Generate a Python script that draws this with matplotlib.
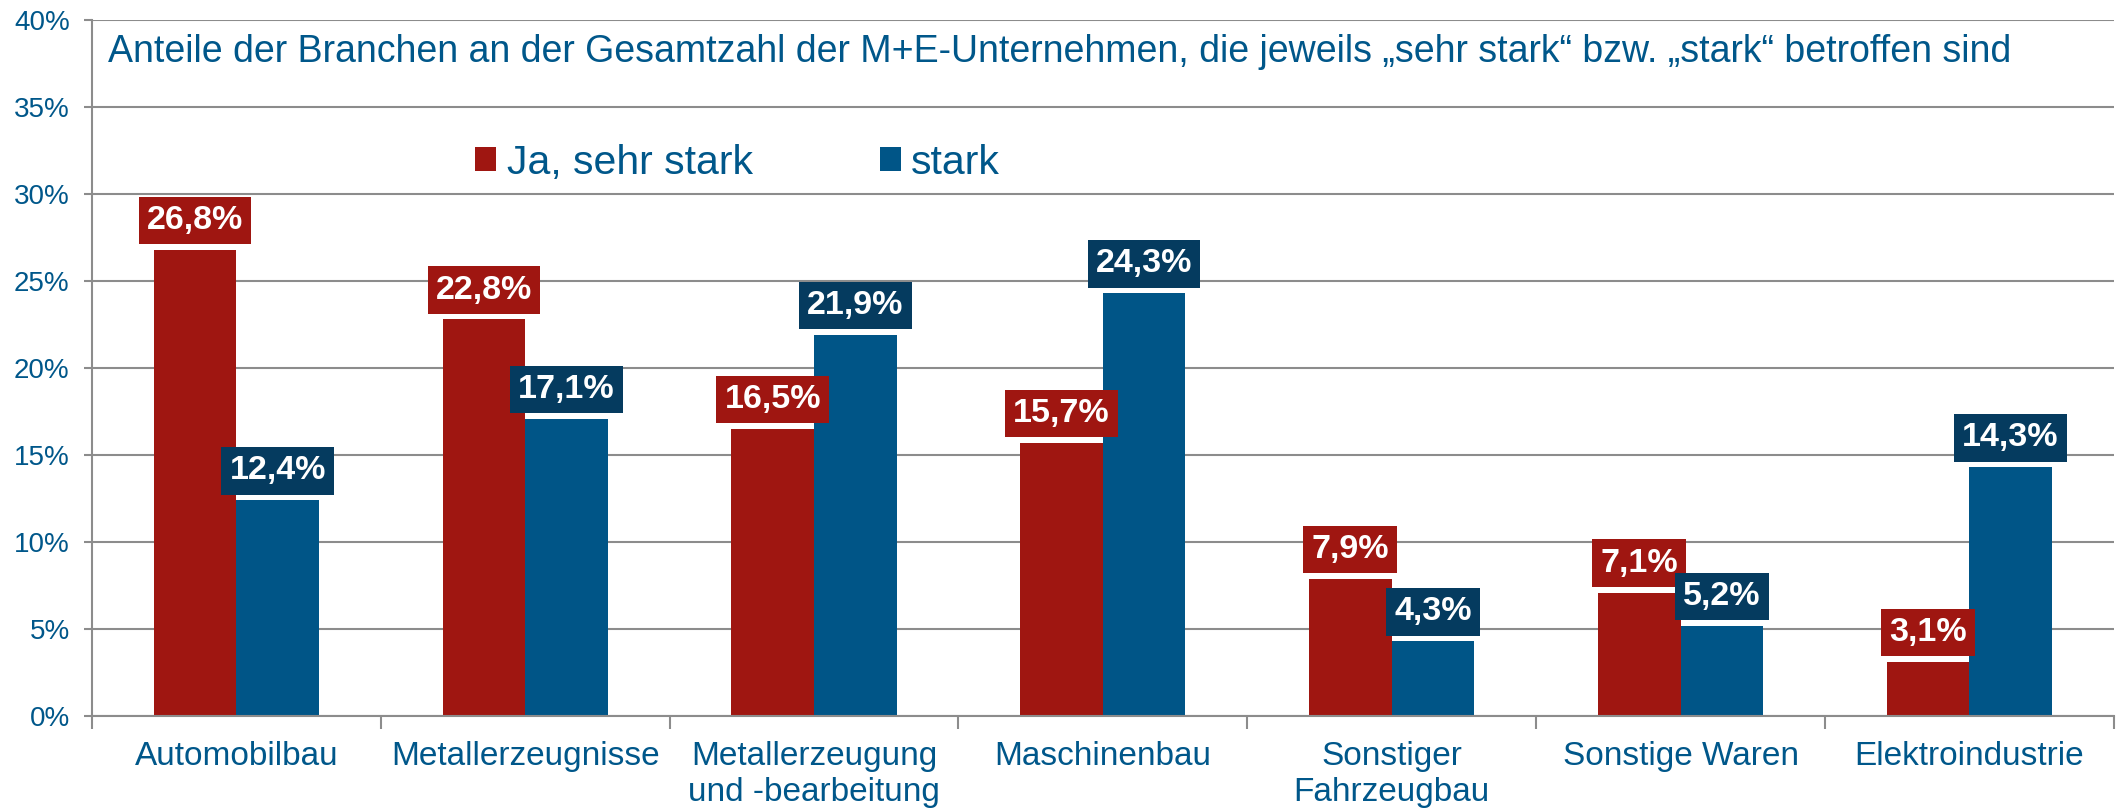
import numpy as np
import matplotlib
matplotlib.use("Agg")
import matplotlib.pyplot as plt

plt.rcParams['font.family'] = ['Liberation Sans', 'DejaVu Sans']

categories = ["Automobilbau", "Metallerzeugnisse", "Metallerzeugung\nund -bearbeitung",
              "Maschinenbau", "Sonstiger\nFahrzeugbau", "Sonstige Waren", "Elektroindustrie"]
sehr_stark = [26.8, 22.8, 16.5, 15.7, 7.9, 7.1, 3.1]
stark = [12.4, 17.1, 21.9, 24.3, 4.3, 5.2, 14.3]
series_names = ["Ja, sehr stark", "stark"]
yticks = [0, 5, 10, 15, 20, 25, 30, 35, 40]
title = "Anteile der Branchen an der Gesamtzahl der M+E-Unternehmen, die jeweils \u201esehr stark\u201c bzw. \u201estark\u201c betroffen sind"

RED = "#9F1611"
BLUE = "#005587"
BLUE_BOX = "#053B5F"
TXT = "#00578A"
GRID = "#8C8C8C"

fig = plt.figure(figsize=(21.18, 8.10), dpi=100)
ax = fig.add_axes([0.0434, 0.116, 0.9546, 0.859])

x = np.arange(len(categories))
w = 1 / 3.5
b1 = ax.bar(x - w / 2, sehr_stark, w, color=RED, label=series_names[0], zorder=2)
b2 = ax.bar(x + w / 2, stark, w, color=BLUE, label=series_names[1], zorder=2)

ax.set_xlim(-0.5, len(categories) - 0.5)
ax.set_ylim(0, 40)
ax.set_yticks(yticks)
ax.set_yticklabels([f"{v}%" for v in yticks])
ax.yaxis.grid(True, color=GRID, lw=1.5, zorder=0)
ax.set_axisbelow(True)

for s in ['top', 'right']:
    ax.spines[s].set_visible(False)
for s in ['left', 'bottom']:
    ax.spines[s].set_color(GRID)
    ax.spines[s].set_linewidth(1.5)

ax.set_xticks(np.arange(-0.5, len(categories), 1.0))
ax.set_xticklabels([])
ax.set_xticks(x, minor=True)
ax.set_xticklabels(categories, minor=True)
ax.tick_params(axis='x', which='major', length=9.5, width=1.5, color=GRID, direction='out')
ax.tick_params(axis='x', which='minor', length=0, pad=18, labelsize=24, labelcolor=TXT)
ax.tick_params(axis='y', length=6, width=1.5, color=GRID, labelsize=20, labelcolor=TXT, pad=10)
for t in ax.get_xticklabels(minor=True):
    t.set_linespacing(1.2)

def fmt(v):
    return f"{v:.1f}".replace('.', ',') + '%'

for bars, vals, col in [(b1, sehr_stark, RED), (b2, stark, BLUE_BOX)]:
    for r, v in zip(bars, vals):
        ax.annotate(fmt(v), xy=(r.get_x() + r.get_width() / 2, v), xytext=(0, 10),
                    textcoords='offset points', ha='center', va='bottom',
                    fontsize=24.5, fontweight='bold', color='white', zorder=5,
                    bbox=dict(boxstyle='square,pad=0.24', fc=col, ec='none'))

fig.text(0.051, 0.923, title, fontsize=27, color=TXT, va='baseline')

ax.legend(handles=[b1, b2], loc='center left', bbox_to_anchor=(0.2243, 0.799),
          bbox_transform=fig.transFigure, ncol=2, frameon=False, fontsize=29.5,
          handlelength=0.52, handleheight=0.52, handletextpad=0.25, columnspacing=3.1,
          labelcolor=TXT, borderpad=0, borderaxespad=0)

fig.savefig("out.png", dpi=100)
